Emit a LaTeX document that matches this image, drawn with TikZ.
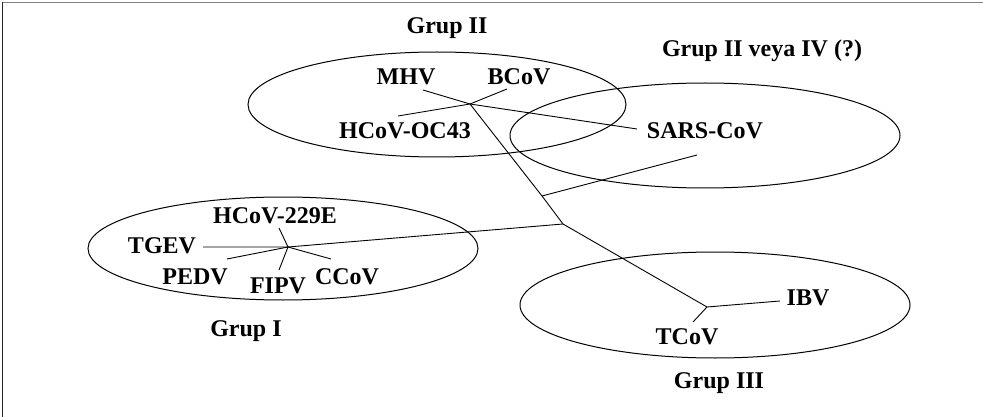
\documentclass[tikz,border=0pt]{standalone}
\usepackage{fontspec}
\setmainfont{Liberation Serif}
\usepackage{tikz}
\usetikzlibrary{shapes.geometric}
\tikzset{grp/.style={draw,ellipse,line width=1pt,minimum width=390pt,minimum height=105pt,inner sep=0pt},
 taxon/.style={font=\fontsize{24}{28}\selectfont\bfseries,anchor=base,inner sep=0pt},
 branch/.style={line width=0.9pt},
}

\begin{document}
\begin{tikzpicture}[x=1pt,y=-1pt]
        \useasboundingbox (0,0) rectangle (983,417);
        \draw[gray,line width=1.2pt] (2.5,2.5) -- (983,2.5);
        \draw[black!85,line width=1.2pt] (2.5,2.5) -- (2.5,417);
        % groups
        \node[grp,minimum width=378pt] (grpII) at (437,104.5) {};
        \node[grp] (grpIV) at (705,135.5) {};
        \node[grp,minimum height=103pt] (grpI) at (283,248.5) {};
        \node[grp,minimum height=106pt] (grpIII) at (715,305) {};
        \node[taxon] (tII) at (447,34) {Grup II};
        \node[taxon] (tIV) at (762,57) {Grup II veya IV (?)};
        \node[taxon] (tI) at (246,336) {Grup I};
        \node[taxon] (tIII) at (719,388) {Grup III};
        % viruses
        \node[taxon] (mhv) at (406,85) {MHV};
        \node[taxon] (bcov) at (519,85) {BCoV};
        \node[taxon] (oc43) at (405,139) {HCoV-OC43};
        \node[taxon] (sars) at (705,139) {SARS-CoV};
        \node[taxon] (e229) at (275,223) {HCoV-229E};
        \node[taxon] (tgev) at (162,253) {TGEV};
        \node[taxon] (pedv) at (195,284) {PEDV};
        \node[taxon] (fipv) at (278,293) {FIPV};
        \node[taxon] (ccov) at (347,284) {CCoV};
        \node[taxon] (ibv) at (808,305) {IBV};
        \node[taxon] (tcov) at (687,344) {TCoV};
        % tree
        \coordinate (jII) at (470,104);
        \coordinate (jsars) at (542,196);
        \coordinate (jroot) at (563,224);
        \coordinate (jI) at (288,247);
        \coordinate (jIII) at (707,307);
        \coordinate (mhv-e) at (423,90);
        \coordinate (bcov-e) at (507,89);
        \coordinate (oc43-e) at (398,116);
        \coordinate (sars-e) at (637,129);
        \coordinate (sars-f) at (697,155);
        \coordinate (e229-e) at (279,228);
        \coordinate (tgev-e) at (203,247);
        \coordinate (pedv-e) at (227,259);
        \coordinate (fipv-e) at (279,270);
        \coordinate (ccov-e) at (331,259);
        \coordinate (ibv-e) at (780,301);
        \coordinate (tcov-e) at (693,322);
        \draw[branch] (mhv-e) -- (jII) -- (sars-e);
        \draw[branch] (oc43-e) -- (jII) -- (bcov-e);
        \draw[branch] (jII) -- (jsars) -- (jroot) -- (jIII);
        \draw[branch] (jsars) -- (sars-f);
        \draw[branch] (jroot) -- (jI) -- (tgev-e);
        \draw[branch] (e229-e) -- (jI) -- (ccov-e);
        \draw[branch] (pedv-e) -- (jI) -- (fipv-e);
        \draw[branch] (ibv-e) -- (jIII) -- (tcov-e);
    \end{tikzpicture}
\end{document}
